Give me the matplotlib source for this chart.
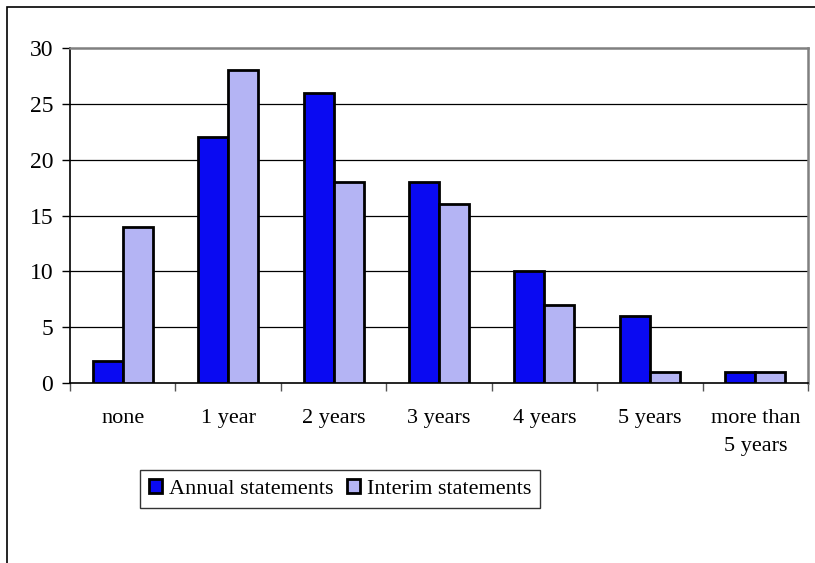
import matplotlib
matplotlib.use("Agg")
import matplotlib.pyplot as plt
import numpy as np
from matplotlib.patches import Rectangle

categories = ["none", "1 year", "2 years", "3 years", "4 years", "5 years", "more than\n5 years"]
annual = [2, 22, 26, 18, 10, 6, 1]
interim = [14, 28, 18, 16, 7, 1, 1]
yticks = [0, 5, 10, 15, 20, 25, 30]

plt.rcParams["font.family"] = ["Liberation Serif", "DejaVu Serif"]
FS = 16

W, H = 815, 563
fig = plt.figure(figsize=(W / 100, H / 100), dpi=100)

# outer chart frame (runs off the right and bottom edge)
fig.patches.append(Rectangle((7 / W, -0.05), 1.2, 1 - 7 / H + 0.05,
                             transform=fig.transFigure, fill=False,
                             edgecolor="black", linewidth=1.2))

left, right, top, bottom = 70, 808, 48, 383
ax = fig.add_axes([left / W, 1 - bottom / H, (right - left) / W, (bottom - top) / H])

x = np.arange(len(categories))
bw = 0.285
ax.bar(x - bw / 2, annual, bw, color="#0a0af2", edgecolor="black", linewidth=2.0,
       label="Annual statements", zorder=3)
ax.bar(x + bw / 2, interim, bw, color="#b4b4f4", edgecolor="black", linewidth=2.0,
       label="Interim statements", zorder=3)

ax.set_xlim(-0.5, len(categories) - 0.5)
ax.set_ylim(0, 30)
ax.set_yticks(yticks)
ax.set_yticklabels([str(v) for v in yticks], fontsize=FS + 1)
for v in yticks[1:-1]:
    ax.axhline(v, color="black", linewidth=0.9, zorder=1)

ax.set_xticks(np.arange(-0.5, len(categories), 1.0))
ax.set_xticklabels([])
ax.set_xticks(x, minor=True)
ax.set_xticklabels(categories, minor=True, fontsize=FS, linespacing=1.6)
ax.tick_params(axis="x", which="minor", length=0, pad=19)
ax.tick_params(axis="x", which="major", length=6, color="#555555", width=1)
ax.tick_params(axis="y", length=6, width=1, pad=6)

ax.spines["left"].set_color("black")
ax.spines["bottom"].set_color("black")
ax.spines["left"].set_linewidth(1.2)
ax.spines["bottom"].set_linewidth(1.2)
ax.spines["top"].set_color("#808080")
ax.spines["right"].set_color("#808080")
ax.spines["top"].set_linewidth(1.8)
ax.spines["right"].set_linewidth(1.8)

leg = fig.legend(loc="upper left", bbox_to_anchor=(140 / W, 1 - 470 / H),
                 ncol=2, fontsize=FS, frameon=True, fancybox=False,
                 edgecolor="black", handlelength=0.6, handleheight=0.6,
                 handletextpad=0.3, columnspacing=0.6, borderpad=0.4,
                 borderaxespad=0)
leg.get_frame().set_linewidth(1.0)

fig.savefig("out.png", dpi=100)
